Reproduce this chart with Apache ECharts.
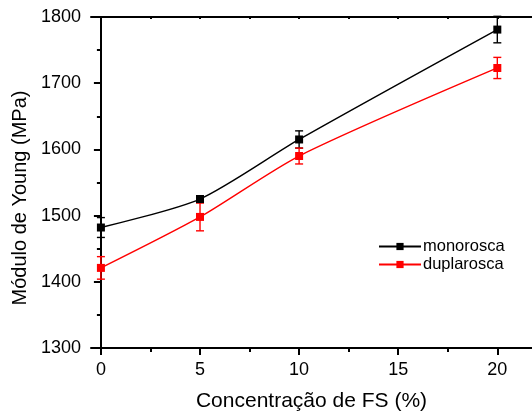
<!DOCTYPE html>
<html><head><meta charset="utf-8">
<script src="https://cdn.jsdelivr.net/npm/echarts@6/dist/echarts.min.js"></script>
<style>html,body{margin:0;padding:0;background:#fff}#c{width:532px;height:417px}</style>
</head><body><div id="c"></div>
<script>
const concentrations = [0, 5, 10, 20];
const monoValues = [1482, 1525, 1615, 1781];
const monoErrors = [15, 5, 13, 20];
const duplaValues = [1421, 1498, 1590, 1723];
const duplaErrors = [17, 21, 12, 16];
const xTicks = [0, 5, 10, 15, 20];
const xMinorTicks = [2.5, 7.5, 12.5, 17.5];
const seriesNames = ['monorosca', 'duplarosca'];
const colors = ['#000000', '#ff0000'];
const xTitle = 'Concentração de FS (%)';
const yTitle = 'Módulo de Young (MPa)';

const font = 'Arial, "Liberation Sans", sans-serif';
const chart = echarts.init(document.getElementById('c'), null, {renderer: 'canvas'});

function errData(vals, errs) {
  return concentrations.map((x, i) => [x, vals[i] - errs[i], vals[i] + errs[i]]);
}
function errSeries(name, vals, errs, color) {
  return {
    type: 'custom', name: name + ' error', xAxisIndex: 0, yAxisIndex: 0, z: 3,
    data: errData(vals, errs),
    renderItem: function (params, api) {
      const lo = api.coord([api.value(0), api.value(1)]);
      const hi = api.coord([api.value(0), api.value(2)]);
      const w = 4;
      const st = {stroke: color, lineWidth: 1.4};
      return {type: 'group', children: [
        {type: 'line', shape: {x1: lo[0], y1: lo[1], x2: hi[0], y2: hi[1]}, style: st},
        {type: 'line', shape: {x1: lo[0] - w, y1: lo[1], x2: lo[0] + w, y2: lo[1]}, style: st},
        {type: 'line', shape: {x1: hi[0] - w, y1: hi[1], x2: hi[0] + w, y2: hi[1]}, style: st}
      ]};
    }
  };
}

const xMin = -0.5, xMax = 21.75;
const option = {
  animation: false,
  backgroundColor: '#fff',
  grid: {left: 91, right: 0, top: 17, bottom: 64, containLabel: false},
  graphic: [{
    type: 'text', x: 20, y: 198, rotation: Math.PI / 2,
    style: {text: yTitle, font: '20px ' + font, fill: '#000', textAlign: 'center', textVerticalAlign: 'middle'}
  }],
  legend: {
    left: 373, top: 233, orient: 'vertical', itemWidth: 42, itemHeight: 9, itemGap: 1,
    textStyle: {fontFamily: font, fontSize: 16.5, color: '#000', padding: [0, 0, 0, -3]},
    data: seriesNames.map(n => ({name: n}))
  },
  xAxis: [
    {
      type: 'value', min: xMin, max: xMax, position: 'bottom',
      name: xTitle, nameLocation: 'middle', nameGap: 43,
      nameTextStyle: {fontFamily: font, fontSize: 21, color: '#000'},
      axisLine: {show: true, lineStyle: {color: '#000', width: 2}},
      axisTick: {show: true, length: 7, lineStyle: {color: '#000', width: 2}, customValues: xTicks},
      axisLabel: {fontFamily: font, fontSize: 18, color: '#000', margin: 13, customValues: xTicks},
      splitLine: {show: false}
    },
    {
      type: 'value', min: xMin, max: xMax, position: 'bottom',
      axisLine: {show: false},
      axisTick: {show: true, length: 4, lineStyle: {color: '#000', width: 2}, customValues: xMinorTicks},
      axisLabel: {show: false},
      splitLine: {show: false}
    },
    {
      type: 'value', min: xMin, max: xMax, position: 'top',
      axisLine: {show: true, lineStyle: {color: '#000', width: 2}},
      axisTick: {show: true, inside: true, length: 2, lineStyle: {color: '#000', width: 2}, customValues: xTicks.concat(xMinorTicks)},
      axisLabel: {show: false},
      splitLine: {show: false}
    }
  ],
  yAxis: [{
    type: 'value', min: 1300, max: 1800, interval: 100,
    axisLine: {show: true, lineStyle: {color: '#000', width: 2}},
    axisTick: {show: true, length: 7, lineStyle: {color: '#000', width: 2}},
    minorTick: {show: true, splitNumber: 2, length: 4, lineStyle: {color: '#000', width: 2}},
    axisLabel: {fontFamily: font, fontSize: 18, color: '#000', margin: 10, formatter: v => String(v)},
    splitLine: {show: false}, minorSplitLine: {show: false}
  }],
  series: [
    {
      type: 'line', name: seriesNames[0], smooth: 0.25, z: 4,
      data: concentrations.map((x, i) => [x, monoValues[i]]),
      symbol: 'rect', symbolSize: 8,
      itemStyle: {color: colors[0]}, lineStyle: {color: colors[0], width: 1.4}
    },
    {
      type: 'line', name: seriesNames[1], smooth: 0.25, z: 4,
      data: concentrations.map((x, i) => [x, duplaValues[i]]),
      symbol: 'rect', symbolSize: 8,
      itemStyle: {color: colors[1]}, lineStyle: {color: colors[1], width: 1.4}
    },
    errSeries(seriesNames[0], monoValues, monoErrors, colors[0]),
    errSeries(seriesNames[1], duplaValues, duplaErrors, colors[1])
  ]
};
chart.setOption(option);
</script></body></html>
